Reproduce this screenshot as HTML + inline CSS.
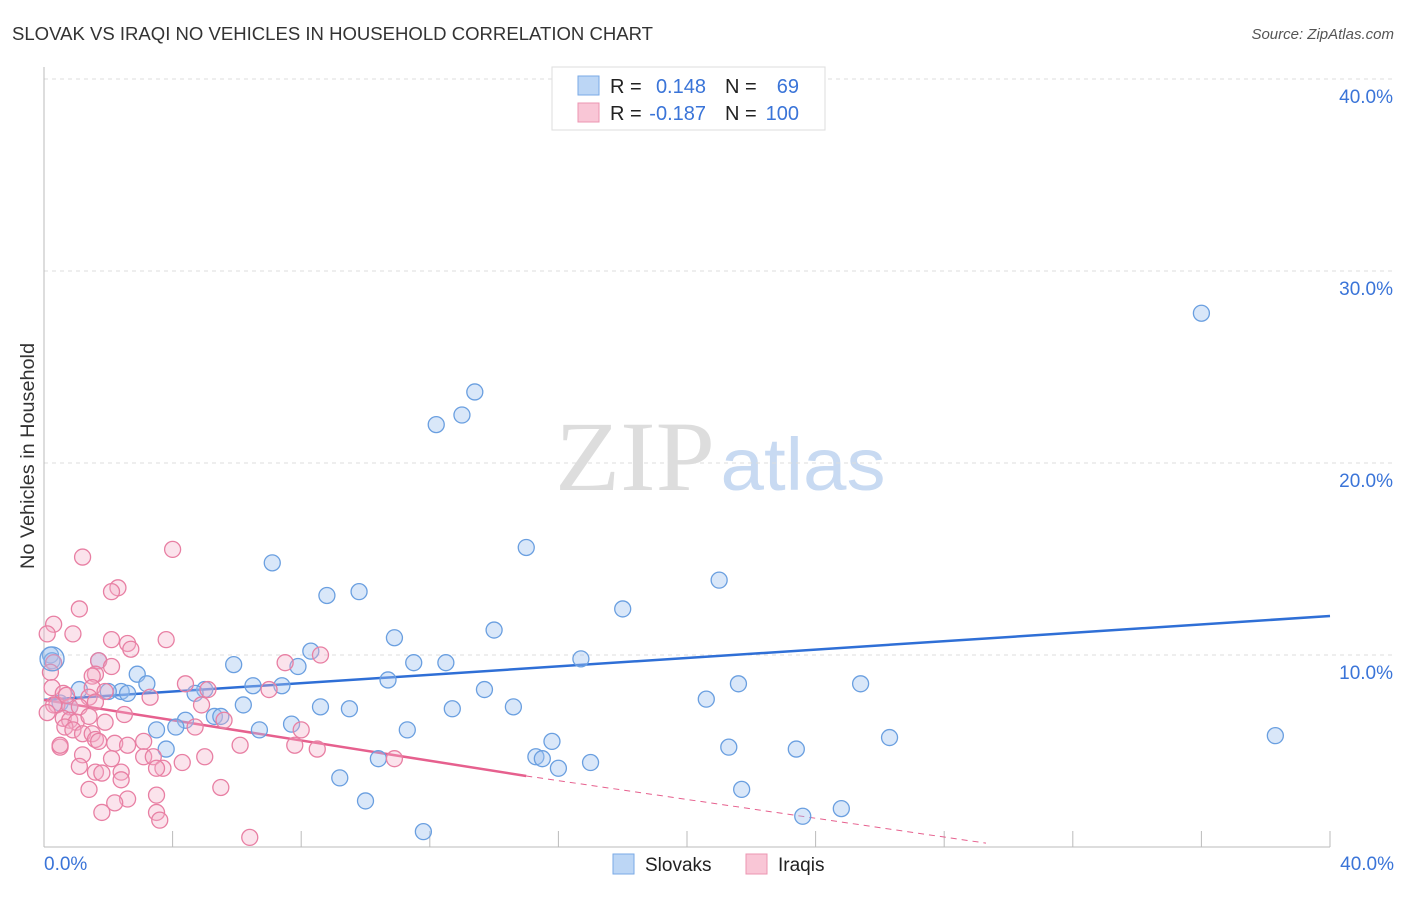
<!DOCTYPE html>
<html><head><meta charset="utf-8">
<style>
body{margin:0;background:#fff;font-family:"Liberation Sans",sans-serif;}
svg text{font-family:"Liberation Sans",sans-serif;}
</style></head>
<body>
<svg id="chart" width="1406" height="892" viewBox="0 0 1406 892">
<text x="12" y="40" font-size="18" fill="#333" textLength="641" lengthAdjust="spacingAndGlyphs">SLOVAK VS IRAQI NO VEHICLES IN HOUSEHOLD CORRELATION CHART</text>
<text x="1394" y="39" font-size="15" fill="#555" font-style="italic" text-anchor="end">Source: ZipAtlas.com</text>
<text x="0" y="0" transform="translate(34,456) rotate(-90)" font-size="19" fill="#333" text-anchor="middle" textLength="226" lengthAdjust="spacingAndGlyphs">No Vehicles in Household</text>
<g>
<text x="635" y="490" font-size="100" fill="#ddd" text-anchor="middle" textLength="160" lengthAdjust="spacingAndGlyphs" style="font-family:'Liberation Serif',serif">ZIP</text>
<text x="803" y="490" font-size="74" fill="#c8daf2" text-anchor="middle" textLength="165" lengthAdjust="spacingAndGlyphs">atlas</text>
</g>
<g id="grid"></g><g id="axes"></g><g id="trends"></g><g id="pts"></g>
<g>
<rect x="552" y="67" width="273" height="63" fill="#fff" stroke="#ddd"/>
<rect x="578" y="76" width="21" height="19" fill="#bcd6f5" stroke="#7aaae6"/>
<rect x="578" y="103" width="21" height="19" fill="#f9c6d6" stroke="#ec95b2"/>
<text x="610" y="93" font-size="20" fill="#222">R =</text><text x="706" y="93" font-size="20" fill="#3a74d8" text-anchor="end">0.148</text>
<text x="725" y="93" font-size="20" fill="#222">N =</text><text x="799" y="93" font-size="20" fill="#3a74d8" text-anchor="end">69</text>
<text x="610" y="120" font-size="20" fill="#222">R =</text><text x="706" y="120" font-size="20" fill="#3a74d8" text-anchor="end">-0.187</text>
<text x="725" y="120" font-size="20" fill="#222">N =</text><text x="799" y="120" font-size="20" fill="#3a74d8" text-anchor="end">100</text>
</g>
<g>
<rect x="613" y="854" width="21" height="20" fill="#bcd6f5" stroke="#7aaae6"/>
<text x="645" y="871" font-size="19" fill="#222">Slovaks</text>
<rect x="746" y="854" width="21" height="20" fill="#f9c6d6" stroke="#ec95b2"/>
<text x="778" y="871" font-size="19" fill="#222">Iraqis</text>
</g>
</svg>
<script>
const yTicks=[10,20,30,40];
const yTickLabels=["10.0%","20.0%","30.0%","40.0%"];
const xTicks=[4,8,12,16,20,24,28,32,36,40];
const slovakX=[36.0,13.4,13.0,12.2,15.0,7.1,21.0,9.8,8.8,18.0,14.0,10.9,8.3,5.9,11.5,12.5,16.7,7.9,1.7,2.9,10.7,3.2,5.0,6.5,7.4,21.6,25.4,1.1,13.7,2.4,2.6,4.7,2.0,6.2,20.6,8.6,9.5,12.7,14.6,0.5,0.8,0.2,0.25,4.4,5.3,5.5,7.7,6.7,11.3,3.5,4.1,3.8,26.3,38.3,15.8,21.3,23.4,15.3,15.5,10.4,16.0,17.0,9.2,21.7,10.0,24.8,23.6,11.8];
const slovakY=[27.8,23.7,22.5,22.0,15.6,14.8,13.9,13.3,13.1,12.4,11.3,10.9,10.2,9.5,9.6,9.6,9.8,9.4,9.7,9.0,8.7,8.5,8.2,8.4,8.4,8.5,8.5,8.2,8.2,8.1,8.0,8.0,8.1,7.4,7.7,7.3,7.2,7.2,7.3,7.5,7.3,10.0,9.7,6.6,6.8,6.8,6.4,6.1,6.1,6.1,6.25,5.1,5.7,5.8,5.5,5.2,5.1,4.7,4.6,4.6,4.1,4.4,3.6,3.0,2.4,2.0,1.6,0.8];
const iraqiX=[0.3,0.1,1.2,4.0,1.1,2.3,2.1,0.9,3.8,2.1,2.6,2.7,0.3,1.7,2.1,0.2,1.6,1.5,4.4,7.5,8.6,0.25,0.6,1.5,1.4,1.9,3.3,5.1,7.0,0.4,0.8,1.1,1.6,2.5,4.9,0.6,0.8,1.0,1.4,1.9,0.65,0.9,1.2,1.5,4.7,5.6,8.0,1.6,1.7,2.2,2.6,3.1,6.1,7.8,8.5,0.5,1.2,2.1,3.1,3.4,4.3,5.0,10.9,1.1,3.7,3.5,1.6,2.4,1.8,2.4,1.4,5.5,3.5,2.6,2.2,1.8,3.5,3.6,6.4,0.5,0.3,0.1,0.7];
const iraqiY=[11.6,11.1,15.1,15.5,12.4,13.5,13.3,11.1,10.8,10.8,10.6,10.3,9.6,9.7,9.4,9.1,9.0,8.9,8.5,9.6,10.0,8.3,8.0,8.3,7.8,8.1,7.8,8.2,8.2,7.4,7.3,7.3,7.55,6.9,7.4,6.7,6.6,6.5,6.8,6.5,6.25,6.1,5.9,5.9,6.25,6.6,6.1,5.6,5.5,5.4,5.3,5.5,5.3,5.3,5.1,5.2,4.8,4.6,4.7,4.7,4.4,4.7,4.6,4.2,4.1,4.1,3.9,3.9,3.85,3.5,3.0,3.1,2.7,2.5,2.3,1.8,1.8,1.4,0.5,5.3,7.4,7.0,7.9];
const slovakTrend=[7.66,12.03];
const iraqiTrend=[7.66,3.70,0.2];
const iraqiTrendX=[0,15.0,29.3];

const NS="http://www.w3.org/2000/svg";
const X0=44,X1=1330,Y0=847,Y40=79;
const xs=v=>X0+(X1-X0)*v/40;
const ys=v=>Y0-(Y0-Y40)*v/40;
function mk(tag,attrs,parent){const e=document.createElementNS(NS,tag);for(const k in attrs)e.setAttribute(k,attrs[k]);parent.appendChild(e);return e;}
const grid=document.getElementById('grid'),axes=document.getElementById('axes'),trends=document.getElementById('trends'),pts=document.getElementById('pts');
yTicks.forEach((t,i)=>{
  const l=mk('line',{x1:X0,x2:1394,y1:ys(t),y2:ys(t),stroke:'#ddd','stroke-dasharray':'4,4'},grid);
  
  
  const tx=mk('text',{x:1393,y:ys(t)+24,'font-size':19,fill:'#3a74d8','text-anchor':'end'},axes);
  tx.textContent=yTickLabels[i];
  
  
});
const ax=mk('line',{x1:X0,x2:X1,y1:Y0,y2:Y0,stroke:'#bbb'},axes);


const ay=mk('line',{x1:X0,x2:X0,y1:67,y2:Y0,stroke:'#bbb'},axes);


xTicks.forEach(t=>{
  const l=mk('line',{x1:xs(t),x2:xs(t),y1:831,y2:Y0,stroke:'#bbb'},axes);
  
  
});
const xl0=mk('text',{x:44,y:870,'font-size':19,fill:'#3a74d8'},axes);xl0.textContent='0.0%';


const xl1=mk('text',{x:1394,y:870,'font-size':19,fill:'#3a74d8','text-anchor':'end'},axes);xl1.textContent='40.0%';



slovakX.forEach((x,i)=>{
  const c=mk('circle',{cx:xs(x),cy:ys(slovakY[i]),r:8,fill:'rgba(160,196,240,0.4)',stroke:'#6a9fe0','stroke-width':1.3},pts);
  
  
});
iraqiX.forEach((x,i)=>{
  const c=mk('circle',{cx:xs(x),cy:ys(iraqiY[i]),r:8,fill:'rgba(244,176,200,0.35)',stroke:'#e87fa3','stroke-width':1.3},pts);
  
  
});
const big=mk('circle',{cx:xs(0.25),cy:ys(9.8),r:12,fill:'rgba(160,196,240,0.3)',stroke:'#6a9fe0','stroke-width':1.3},pts);



const bt=mk('line',{x1:xs(0),y1:ys(slovakTrend[0]),x2:xs(40),y2:ys(slovakTrend[1]),stroke:'#2f6fd6','stroke-width':2.5},trends);


const pt=mk('line',{x1:xs(iraqiTrendX[0]),y1:ys(iraqiTrend[0]),x2:xs(iraqiTrendX[1]),y2:ys(iraqiTrend[1]),stroke:'#e6608e','stroke-width':2.5},trends);


const pd=mk('line',{x1:xs(iraqiTrendX[1]),y1:ys(iraqiTrend[1]),x2:xs(iraqiTrendX[2]),y2:ys(iraqiTrend[2]),stroke:'#e6608e','stroke-width':1,'stroke-dasharray':'6,5'},trends);


</script>
</body></html>
